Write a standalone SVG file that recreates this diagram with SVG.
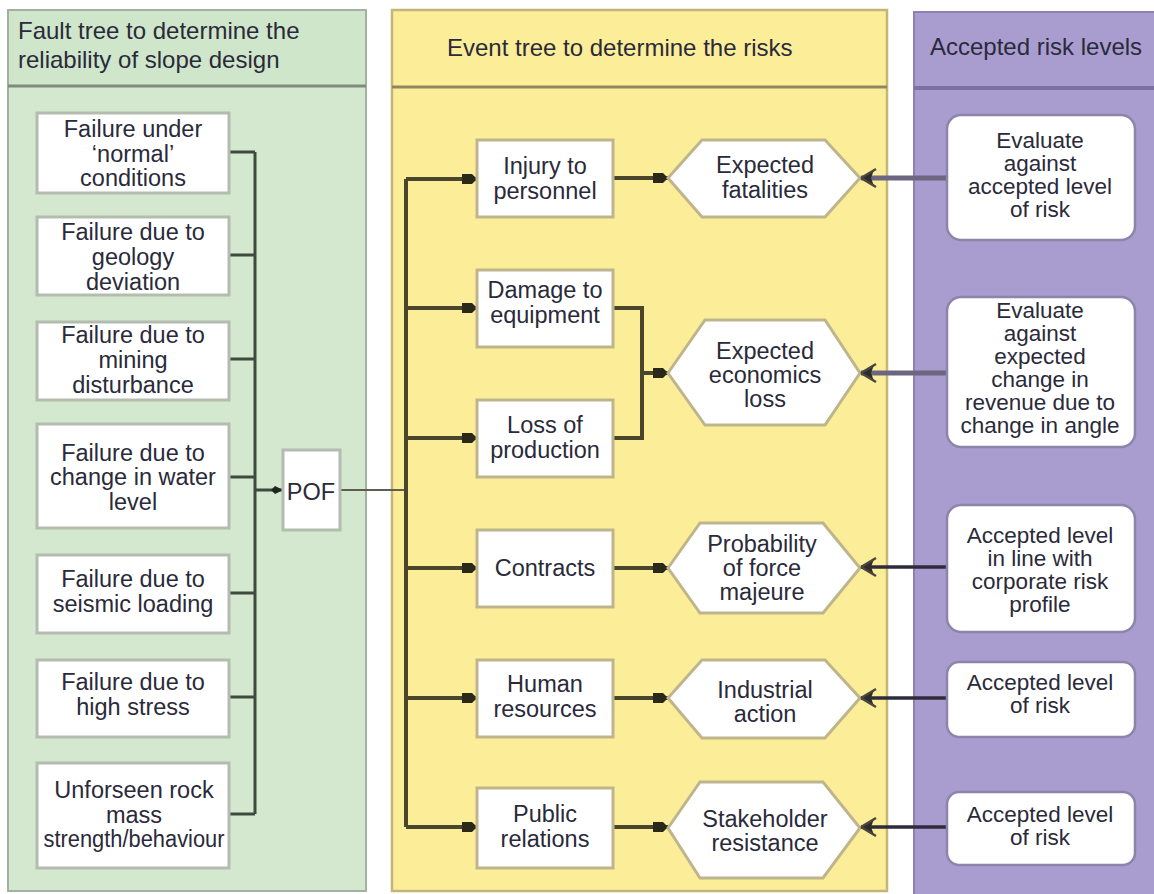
<svg xmlns="http://www.w3.org/2000/svg" width="1154" height="894" viewBox="0 0 1154 894">
<style>
text{font-family:"Liberation Sans",Arial,sans-serif;font-size:23.5px;fill:#2a2a3a;text-anchor:middle}
.hdr{font-size:24px;text-anchor:start}
.rt{font-size:22.5px}
.lbox{fill:#ffffff;stroke:#b4bcb0;stroke-width:3}
.mbox{fill:#ffffff;stroke:#beb58c;stroke-width:3}
.rbox{fill:#ffffff;stroke:#8d84aa;stroke-width:2.5}
.gl{fill:none;stroke:#3e4a3e;stroke-width:3}
.yl{fill:none;stroke:#4a462c;stroke-width:4}
.pl1{fill:none;stroke:#6c6680;stroke-width:5}
.pl2{fill:none;stroke:#2e2c3a;stroke-width:3.5}
</style>
<defs>
<marker id="sq" markerWidth="15" markerHeight="14" refX="15" refY="7" orient="auto" markerUnits="userSpaceOnUse">
<path d="M0,2 L10,2 L15,7 L10,12 L0,12 Z" fill="#2a2818"/>
</marker>
<marker id="dot" markerWidth="12" markerHeight="10" refX="12" refY="5" orient="auto" markerUnits="userSpaceOnUse">
<path d="M0,5 L4,1 L8,3 L12,5 L8,7 L4,9 Z" fill="#1e261e"/>
</marker>
<marker id="chev" markerWidth="20" markerHeight="22" refX="18" refY="11" orient="auto" markerUnits="userSpaceOnUse">
<path d="M18,11 L5,3 L8,11 L5,19 Z" fill="#2e2c2a"/>
<path d="M18,11 L3,2 M18,11 L3,20" stroke="#4a4640" stroke-width="2.5" fill="none"/>
</marker>
</defs>

<!-- panels -->
<g id="panel-fault">
<rect x="8" y="10" width="358" height="881" fill="#d3e8cf" stroke="#a3b1a1" stroke-width="2"/>
<rect x="9" y="11" width="356" height="75" fill="#cfe6cb"/>
<line x1="8" y1="86" x2="366" y2="86" stroke="#7f8c7d" stroke-width="3"/>
<text class="hdr" x="18" y="39">Fault tree to determine the</text>
<text class="hdr" x="18" y="68">reliability of slope design</text>
</g>
<g id="panel-event">
<rect x="392" y="10" width="495" height="881" fill="#fcee98" stroke="#c3b678" stroke-width="2.5"/>
<line x1="392" y1="87" x2="887" y2="87" stroke="#8f8660" stroke-width="3"/>
<text class="hdr" x="447" y="56">Event tree to determine the risks</text>
</g>
<g id="panel-accepted">
<rect x="914" y="12" width="242" height="884" fill="#a99dcf" stroke="#8b80b0" stroke-width="2"/>
<line x1="914" y1="88" x2="1154" y2="88" stroke="#7b70a0" stroke-width="4"/>
<text class="hdr" x="930" y="55">Accepted risk levels</text>
</g>

<!-- connectors -->
<g id="connectors">
<path class="gl" d="M229,152 H255 M229,255 H255 M229,359 H255 M229,477 H255 M229,593 H255 M229,697 H255 M229,814 H255 M255,152 V814"/>
<path class="gl" d="M255,490 H283" marker-end="url(#dot)"/>
<path d="M340,490 H406" stroke="#5e5e50" stroke-width="2" fill="none"/>
<path class="yl" d="M406,179 V827"/>
<path class="yl" d="M406,179 H477" marker-end="url(#sq)"/>
<path class="yl" d="M406,308 H477" marker-end="url(#sq)"/>
<path class="yl" d="M406,438 H477" marker-end="url(#sq)"/>
<path class="yl" d="M406,568 H477" marker-end="url(#sq)"/>
<path class="yl" d="M406,698 H477" marker-end="url(#sq)"/>
<path class="yl" d="M406,827 H477" marker-end="url(#sq)"/>
<path class="yl" d="M613,178 H668" marker-end="url(#sq)"/>
<path class="yl" d="M613,308 H642 V438 H613"/>
<path class="yl" d="M642,373 H668" marker-end="url(#sq)"/>
<path class="yl" d="M613,568 H668" marker-end="url(#sq)"/>
<path class="yl" d="M613,698 H668" marker-end="url(#sq)"/>
<path class="yl" d="M613,827 H668" marker-end="url(#sq)"/>
</g>

<!-- fault tree nodes -->
<g id="f1"><rect class="lbox" x="37" y="113" width="192" height="80"/>
<text x="133" y="137">Failure under</text><text x="133" y="162">‘normal’</text><text x="133" y="186">conditions</text></g>
<g id="f2"><rect class="lbox" x="37" y="217" width="192" height="78"/>
<text x="133" y="240">Failure due to</text><text x="133" y="265">geology</text><text x="133" y="290">deviation</text></g>
<g id="f3"><rect class="lbox" x="37" y="322" width="192" height="78"/>
<text x="133" y="343">Failure due to</text><text x="133" y="368">mining</text><text x="133" y="393">disturbance</text></g>
<g id="f4"><rect class="lbox" x="37" y="424" width="192" height="104"/>
<text x="133" y="461">Failure due to</text><text x="133" y="485">change in water</text><text x="133" y="510">level</text></g>
<g id="f5"><rect class="lbox" x="37" y="555" width="192" height="78"/>
<text x="133" y="587">Failure due to</text><text x="133" y="612">seismic loading</text></g>
<g id="f6"><rect class="lbox" x="37" y="660" width="192" height="77"/>
<text x="133" y="690">Failure due to</text><text x="133" y="715">high stress</text></g>
<g id="f7"><rect class="lbox" x="37" y="763" width="192" height="105"/>
<text x="134" y="798">Unforseen rock</text><text x="134" y="823">mass</text><text x="134" y="847" textLength="181" lengthAdjust="spacingAndGlyphs">strength/behaviour</text></g>
<g id="pof"><rect class="lbox" x="283" y="450" width="57" height="80"/>
<text x="311" y="500">POF</text></g>

<!-- event tree nodes -->
<g id="e1"><rect class="mbox" x="477" y="140" width="136" height="77"/>
<text x="545" y="174">Injury to</text><text x="545" y="199">personnel</text></g>
<g id="e2"><rect class="mbox" x="477" y="270" width="136" height="77"/>
<text x="545" y="298">Damage to</text><text x="545" y="323">equipment</text></g>
<g id="e3"><rect class="mbox" x="477" y="400" width="136" height="77"/>
<text x="545" y="433">Loss of</text><text x="545" y="458">production</text></g>
<g id="e4"><rect class="mbox" x="477" y="530" width="136" height="77"/>
<text x="545" y="576">Contracts</text></g>
<g id="e5"><rect class="mbox" x="477" y="660" width="136" height="77"/>
<text x="545" y="692">Human</text><text x="545" y="717">resources</text></g>
<g id="e6"><rect class="mbox" x="477" y="788" width="136" height="80"/>
<text x="545" y="822">Public</text><text x="545" y="847">relations</text></g>

<g id="h1"><polygon class="mbox" points="668,178 702,140 825,140 860,178 825,217 702,217"/>
<text x="765" y="173">Expected</text><text x="765" y="198">fatalities</text></g>
<g id="h2"><polygon class="mbox" points="668,373 705,320 825,320 860,373 825,425 705,425"/>
<text x="765" y="359">Expected</text><text x="765" y="383">economics</text><text x="765" y="407">loss</text></g>
<g id="h3"><polygon class="mbox" points="668,568 700,523 823,523 860,568 823,613 700,613"/>
<text x="762" y="552">Probability</text><text x="762" y="576">of force</text><text x="762" y="600">majeure</text></g>
<g id="h4"><polygon class="mbox" points="668,698 702,660 825,660 860,698 825,738 702,738"/>
<text x="765" y="698">Industrial</text><text x="765" y="722">action</text></g>
<g id="h5"><polygon class="mbox" points="668,828 700,782 823,782 860,828 823,878 700,878"/>
<text x="765" y="827">Stakeholder</text><text x="765" y="851">resistance</text></g>

<!-- arrows from accepted levels (drawn over hexagon tips) -->
<g id="connectors-accepted">
<path class="pl1" d="M946,178 H861" marker-end="url(#chev)"/>
<path class="pl1" d="M946,373 H861" marker-end="url(#chev)"/>
<path class="pl2" d="M946,567 H861" marker-end="url(#chev)"/>
<path class="pl2" d="M946,698 H861" marker-end="url(#chev)"/>
<path class="pl2" d="M946,827 H861" marker-end="url(#chev)"/>
</g>

<!-- accepted risk nodes -->
<g id="r1"><rect class="rbox" x="947" y="115" width="188" height="125" rx="14"/>
<text class="rt" x="1040" y="148">Evaluate</text><text class="rt" x="1040" y="171">against</text><text class="rt" x="1040" y="194">accepted level</text><text class="rt" x="1040" y="217">of risk</text></g>
<g id="r2"><rect class="rbox" x="947" y="297" width="188" height="150" rx="14"/>
<text class="rt" x="1040" y="318">Evaluate</text><text class="rt" x="1040" y="341">against</text><text class="rt" x="1040" y="364">expected</text><text class="rt" x="1040" y="387">change in</text><text class="rt" x="1040" y="410">revenue due to</text><text class="rt" x="1040" y="433">change in angle</text></g>
<g id="r3"><rect class="rbox" x="947" y="505" width="188" height="127" rx="14"/>
<text class="rt" x="1040" y="543">Accepted level</text><text class="rt" x="1040" y="566">in line with</text><text class="rt" x="1040" y="589">corporate risk</text><text class="rt" x="1040" y="612">profile</text></g>
<g id="r4"><rect class="rbox" x="947" y="662" width="188" height="75" rx="12"/>
<text class="rt" x="1040" y="690">Accepted level</text><text class="rt" x="1040" y="713">of risk</text></g>
<g id="r5"><rect class="rbox" x="947" y="792" width="188" height="73" rx="12"/>
<text class="rt" x="1040" y="822">Accepted level</text><text class="rt" x="1040" y="845">of risk</text></g>
</svg>
